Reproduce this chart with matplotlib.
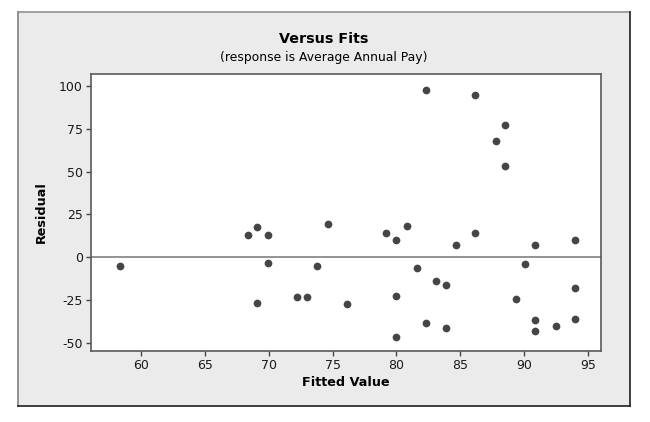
import numpy as np
import matplotlib.pyplot as plt
from matplotlib.patches import Rectangle
from matplotlib.lines import Line2D

plt.rcParams['axes.unicode_minus'] = False

# fitted values and residuals
fitted = [58.3, 68.4, 69.1, 69.1, 69.9, 69.9, 72.2, 73.0, 73.8, 74.6,
          76.1, 79.2, 80.0, 80.0, 80.0, 80.8, 81.6, 82.3, 82.3, 83.1,
          83.9, 83.9, 84.7, 86.2, 86.2, 87.8, 88.5, 88.5, 89.4, 90.1,
          90.9, 90.9, 90.9, 92.5, 94.0, 94.0, 94.0]
residual = [-5.0, 12.9, 17.7, -26.7, 12.9, -3.3, -23.2, -23.2, -5.1, 19.1,
            -27.3, 14.2, 9.9, -22.6, -46.6, 18.3, -6.2, 97.7, -38.8, -14.0,
            -16.6, -41.3, 6.8, 94.7, 14.2, 67.6, 77.2, 53.2, -24.4, -3.9,
            6.8, -36.5, -43.1, -40.5, 9.9, -17.9, -35.9]
xticks = [60, 65, 70, 75, 80, 85, 90, 95]
yticks = [-50, -25, 0, 25, 50, 75, 100]

W, H = 650, 422
fig = plt.figure(figsize=(6.5, 4.22), dpi=100, facecolor='white')

# grey panel behind the plot, light top/left edge, dark bottom/right edge
L, R, T, B = 17.7, 630, 11.5, 405.7
panel = Rectangle((L/W, 1-B/H), (R-L)/W, (B-T)/H, transform=fig.transFigure,
                  facecolor='#ebebeb', edgecolor='none')
panel.set_zorder(-10)
fig.add_artist(panel)
for xs, ys, c in [([L, R], [T, T], '#9a9a9a'), ([L, L], [T, B], '#8a8a8a'),
                  ([L, R], [B, B], '#2e2e2e'), ([R, R], [T, B], '#2e2e2e')]:
    ln = Line2D([x/W for x in xs], [1-y/H for y in ys], transform=fig.transFigure,
                color=c, linewidth=1.3)
    ln.set_zorder(-9)
    fig.add_artist(ln)

ax = fig.add_axes([91.3/W, 1-350.7/H, (600.7-91.3)/W, (350.7-74.3)/H])
ax.set_zorder(1)
ax.set_facecolor('white')
ax.axhline(0, color='#808080', linewidth=1.2, zorder=1)
ax.scatter(fitted, residual, s=31, color='#454545', zorder=2, linewidths=0)

ax.set_xlim(56.08, 96.02)
ax.set_ylim(-54.7, 106.8)
ax.set_xticks(xticks)
ax.set_yticks(yticks)
ax.tick_params(direction='out', length=3.5, width=1, color='#444444',
               labelsize=9, labelcolor='#1a1a1a', pad=2.5)
for s in ax.spines.values():
    s.set_color('#5a5a5a')
    s.set_linewidth(1.2)

ax.set_xlabel('Fitted Value', fontsize=9.2, fontweight='bold', labelpad=3)
ax.set_ylabel('Residual', fontsize=9.2, fontweight='bold', labelpad=8)
fig.text(324/W, 1-39/H, 'Versus Fits', ha='center', va='center',
         fontsize=10.3, fontweight='bold')
fig.text(324/W, 1-58/H, '(response is Average Annual Pay)', ha='center',
         va='center', fontsize=8.9)

fig.savefig('out.png', dpi=100, facecolor='white')
